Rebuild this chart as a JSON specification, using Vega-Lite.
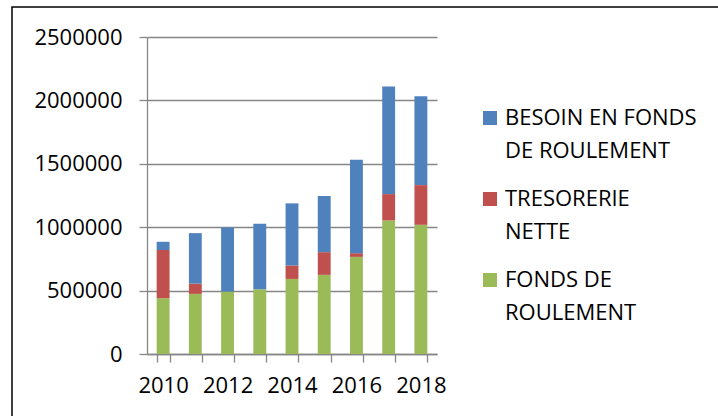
{
  "$schema": "https://vega.github.io/schema/vega-lite/v6.json",
  "autosize": {"type": "none"},
  "width": 760,
  "height": 460,
  "padding": {"left": 12, "top": 7, "right": -54, "bottom": -51},
  "background": "white",
  "data": {
    "values": [
      {"year": 2010, "serie": "FONDS DE ROULEMENT", "value": 440000},
      {"year": 2010, "serie": "TRESORERIE NETTE", "value": 380000},
      {"year": 2010, "serie": "BESOIN EN FONDS DE ROULEMENT", "value": 65000},
      {"year": 2011, "serie": "FONDS DE ROULEMENT", "value": 474000},
      {"year": 2011, "serie": "TRESORERIE NETTE", "value": 81000},
      {"year": 2011, "serie": "BESOIN EN FONDS DE ROULEMENT", "value": 398000},
      {"year": 2012, "serie": "FONDS DE ROULEMENT", "value": 492000},
      {"year": 2012, "serie": "TRESORERIE NETTE", "value": 0},
      {"year": 2012, "serie": "BESOIN EN FONDS DE ROULEMENT", "value": 506000},
      {"year": 2013, "serie": "FONDS DE ROULEMENT", "value": 511000},
      {"year": 2013, "serie": "TRESORERIE NETTE", "value": 0},
      {"year": 2013, "serie": "BESOIN EN FONDS DE ROULEMENT", "value": 516000},
      {"year": 2014, "serie": "FONDS DE ROULEMENT", "value": 592000},
      {"year": 2014, "serie": "TRESORERIE NETTE", "value": 106000},
      {"year": 2014, "serie": "BESOIN EN FONDS DE ROULEMENT", "value": 490000},
      {"year": 2015, "serie": "FONDS DE ROULEMENT", "value": 624000},
      {"year": 2015, "serie": "TRESORERIE NETTE", "value": 179000},
      {"year": 2015, "serie": "BESOIN EN FONDS DE ROULEMENT", "value": 443000},
      {"year": 2016, "serie": "FONDS DE ROULEMENT", "value": 766000},
      {"year": 2016, "serie": "TRESORERIE NETTE", "value": 29000},
      {"year": 2016, "serie": "BESOIN EN FONDS DE ROULEMENT", "value": 737000},
      {"year": 2017, "serie": "FONDS DE ROULEMENT", "value": 1053000},
      {"year": 2017, "serie": "TRESORERIE NETTE", "value": 208000},
      {"year": 2017, "serie": "BESOIN EN FONDS DE ROULEMENT", "value": 848000},
      {"year": 2018, "serie": "FONDS DE ROULEMENT", "value": 1019000},
      {"year": 2018, "serie": "TRESORERIE NETTE", "value": 313000},
      {"year": 2018, "serie": "BESOIN EN FONDS DE ROULEMENT", "value": 700000}
    ]
  },
  "transform": [
    {"calculate": "indexof(['FONDS DE ROULEMENT','TRESORERIE NETTE','BESOIN EN FONDS DE ROULEMENT'], datum.serie)", "as": "rank"}
  ],
  "mark": {"type": "bar"},
  "encoding": {
    "x": {
      "field": "year",
      "type": "ordinal",
      "scale": {"range": [135, 425], "paddingInner": 0.6, "paddingOuter": 0.3},
      "axis": {
        "title": null,
        "labelAngle": 0,
        "offset": -113,
        "tickBand": "extent",
        "tickSize": 8,
        "tickColor": "#868686",
        "domainColor": "#868686",
        "domainWidth": 1.3,
        "tickWidth": 1.3,
        "labelPadding": 13,
        "labelExpr": "datum.value % 2 == 0 ? datum.label : ''"
      }
    },
    "y": {
      "field": "value",
      "type": "quantitative",
      "stack": "zero",
      "scale": {"domain": [0, 2500000], "range": [347, 30], "nice": false},
      "axis": {
        "title": null,
        "offset": -135,
        "values": [0, 500000, 1000000, 1500000, 2000000, 2500000],
        "format": "d",
        "tickSize": 8,
        "tickColor": "#868686",
        "tickWidth": 1.3,
        "domainColor": "#868686",
        "domainWidth": 1.3,
        "grid": true,
        "gridColor": "#868686",
        "gridWidth": 1.3,
        "labelPadding": 17
      }
    },
    "color": {
      "field": "serie",
      "type": "nominal",
      "scale": {
        "domain": ["BESOIN EN FONDS DE ROULEMENT", "TRESORERIE NETTE", "FONDS DE ROULEMENT"],
        "range": ["#4F81BD", "#C0504D", "#9BBB59"]
      },
      "legend": {
        "title": null,
        "orient": "none",
        "legendX": 467,
        "legendY": 100,
        "padding": 0,
        "symbolType": "square",
        "symbolSize": 196,
        "symbolStrokeWidth": 0,
        "labelOffset": 4,
        "labelLimit": 400,
        "labelBaseline": "middle",
        "rowPadding": 26,
        "labelExpr": "datum.label == 'BESOIN EN FONDS DE ROULEMENT' ? ['BESOIN EN FONDS', 'DE ROULEMENT'] : datum.label == 'TRESORERIE NETTE' ? ['TRESORERIE', 'NETTE'] : ['FONDS DE', 'ROULEMENT']"
      }
    },
    "order": {"field": "rank", "type": "quantitative", "sort": "ascending"}
  },
  "config": {
    "view": {"stroke": "black", "strokeWidth": 1.5},
    "font": "Open Sans",
    "axis": {"labelFont": "Open Sans", "labelFontSize": 22, "labelColor": "black"},
    "legend": {"labelFont": "Open Sans", "labelFontSize": 22, "labelColor": "black"},
    "style": {"guide-label": {"lineHeight": 33}}
  }
}
